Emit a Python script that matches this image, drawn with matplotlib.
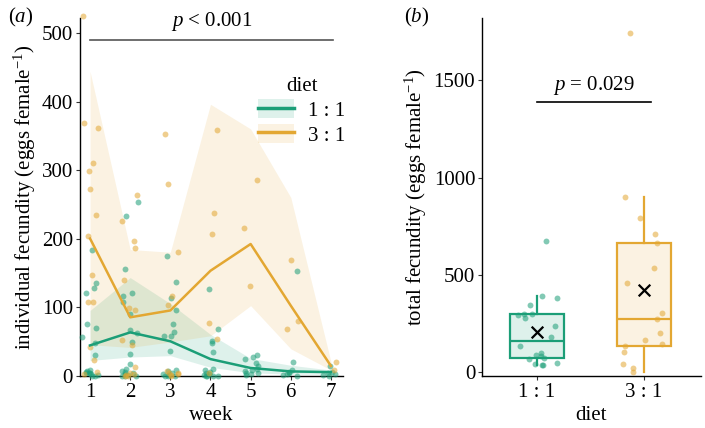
import matplotlib
matplotlib.use('Agg')
import matplotlib.pyplot as plt
from matplotlib.patches import Patch
from matplotlib.lines import Line2D
import numpy as np

# colours
GREEN = '#1b9e77'
ORANGE = '#e3a732'

weeks = [1, 2, 3, 4, 5, 6, 7]

# weekly means and ribbons
mean_11 = [44, 63, 50, 24, 11, 6, 5]
upper_11 = [95, 143, 105, 60, 25, 15, 8]
lower_11 = [22, 27, 29, 12, 4, 2, 2]

mean_31 = [200, 85, 95, 153, 192, 102, 14]
upper_31 = [444, 184, 180, 396, 360, 260, 20]
lower_31 = [45, 41, 49, 58, 102, 39, 8]

# individual points per week
points_11 = {
    1: [183, 135, 128, 121, 75, 70, 56, 48, 30, 8, 6, 5, 4, 3, 3, 2, 1, 0, 0],
    2: [253, 233, 155, 120, 116, 107, 90, 67, 62, 49, 32, 17, 9, 7, 5, 3, 2, 1, 0, 0, 0],
    3: [174, 137, 113, 95, 75, 64, 58, 57, 36, 8, 6, 4, 2, 1, 0, 0, 0],
    4: [126, 68, 50, 47, 34, 10, 8, 5, 3, 2, 1, 0, 0, 0, 0],
    5: [30, 27, 24, 18, 14, 10, 8, 6, 4, 3, 2, 1],
    6: [153, 20, 8, 5, 3, 2, 1, 0],
    7: [14, 5, 3, 2, 1, 0],
}
points_31 = {
    1: [525, 368, 362, 310, 298, 273, 234, 204, 147, 108, 108, 42, 23, 5, 2],
    2: [264, 225, 196, 186, 139, 98, 96, 52, 44, 13, 3, 2, 1, 0, 0],
    3: [353, 280, 180, 116, 103, 6, 4, 3, 2, 1, 0],
    4: [358, 237, 207, 76, 54, 3],
    5: [285, 216, 130],
    6: [168, 79, 68],
    7: [20, 8],
}

# panel (b): total fecundity per female
diets = ['1 : 1', '3 : 1']
total_11 = [673, 393, 381, 347, 300, 297, 296, 277, 236, 181, 137,
            99, 91, 84, 72, 70, 46, 45, 37, 36]
total_31 = [1745, 899, 793, 711, 665, 537, 461, 306, 272, 202, 164,
            147, 135, 104, 43, 21, 4]


def style_axes(ax):
    """ggplot classic-ish look."""
    for side in ['top', 'right']:
        ax.spines[side].set_visible(False)
    ax.spines['left'].set_linewidth(1.0)
    ax.spines['bottom'].set_linewidth(1.0)
    ax.tick_params(labelsize=15, length=3, width=0.8, color='#333333', pad=2)


def draw_weekly(ax, rng):
    """Panel (a): weekly fecundity, points + mean line + ribbon."""
    for pts, mean, lo, hi, col in [
        (points_11, mean_11, lower_11, upper_11, GREEN),
        (points_31, mean_31, lower_31, upper_31, ORANGE),
    ]:
        ax.fill_between(weeks, lo, hi, color=col, alpha=0.14, linewidth=0)
        for w, vals in pts.items():
            xs = w + rng.uniform(-0.2, 0.2, len(vals))
            ax.scatter(xs, vals, s=18, color=col, alpha=0.55,
                       linewidths=0, clip_on=False, zorder=3)
        ax.plot(weeks, mean, color=col, lw=1.8, zorder=4)

    ax.set_xlim(0.75, 7.3)
    ax.set_ylim(-1, 522)
    ax.set_xticks(weeks)
    ax.set_yticks([0, 100, 200, 300, 400, 500])
    ax.set_xlabel('week', fontsize=15, labelpad=3)
    ax.set_ylabel('individual fecundity (eggs female$^{-1}$)', fontsize=15,
                  labelpad=3)

    # significance bar
    ax.plot([1, 7.05], [490, 490], color='#555555', lw=1.2)
    ax.text(4.03, 500, '$p$ < 0.001', ha='center', va='bottom', fontsize=15)

    handles = [(Patch(facecolor=GREEN, alpha=0.14, edgecolor='none'),
                Line2D([], [], color=GREEN, lw=2.5)),
               (Patch(facecolor=ORANGE, alpha=0.14, edgecolor='none'),
                Line2D([], [], color=ORANGE, lw=2.5))]
    ax.legend(handles, ['1 : 1', '3 : 1'], title='diet', frameon=False,
              fontsize=15, title_fontsize=15, loc='upper right',
              bbox_to_anchor=(1.065, 0.875), handlelength=1.7,
              handleheight=1.0, labelspacing=0.15, handletextpad=0.7,
              borderpad=0.2)


def draw_totals(ax, rng):
    """Panel (b): total fecundity boxplots with jittered points and means."""
    data = [total_11, total_31]
    cols = [GREEN, ORANGE]
    for i, (vals, col) in enumerate(zip(data, cols)):
        pos = i + 1
        bp = ax.boxplot([vals], positions=[pos], widths=0.5, showfliers=False,
                        patch_artist=True, whis=1.5)
        bp['boxes'][0].set(facecolor=matplotlib.colors.to_rgba(col, 0.14),
                           edgecolor=col, linewidth=1.6)
        for k in ['whiskers', 'medians']:
            for ln in bp[k]:
                ln.set(color=col, linewidth=1.6)
        for ln in bp['caps']:
            ln.set_visible(False)
        xs = pos + rng.uniform(-0.2, 0.2, len(vals))
        ax.scatter(xs, vals, s=18, color=col, alpha=0.55, linewidths=0,
                   clip_on=False, zorder=3)
        ax.scatter([pos], [np.mean(vals)], marker='x', s=70, color='black',
                   linewidths=1.6, zorder=5)

    ax.set_xlim(0.49, 2.53)
    ax.set_ylim(-20, 1820)
    ax.set_xticks([1, 2])
    ax.set_xticklabels(diets)
    ax.set_yticks([0, 500, 1000, 1500])
    ax.set_xlabel('diet', fontsize=15, labelpad=3)
    ax.set_ylabel('total fecundity (eggs female$^{-1}$)', fontsize=15,
                  labelpad=3)

    ax.plot([1.0, 2.07], [1390, 1390], color='black', lw=1.2)
    ax.text(1.53, 1415, '$p$ = 0.029', ha='center', va='bottom', fontsize=15)


def main():
    plt.rcParams['font.family'] = ['Liberation Serif', 'DejaVu Serif']
    plt.rcParams['mathtext.fontset'] = 'custom'
    plt.rcParams['mathtext.rm'] = 'Liberation Serif'
    plt.rcParams['mathtext.it'] = 'Liberation Serif:italic'

    rng = np.random.default_rng(7)
    fig = plt.figure(figsize=(7.05, 4.28), dpi=100)
    ax1 = fig.add_axes([0.1135, 0.121, 0.373, 0.837])
    ax2 = fig.add_axes([0.684, 0.121, 0.31, 0.837])
    style_axes(ax1)
    style_axes(ax2)

    draw_weekly(ax1, rng)
    draw_totals(ax2, rng)

    fig.text(0.012, 0.985, '($a$)', fontsize=15, va='top', ha='left')
    fig.text(0.573, 0.985, '($b$)', fontsize=15, va='top', ha='left')

    fig.savefig('out.png', dpi=100)


if __name__ == "__main__":
    main()
